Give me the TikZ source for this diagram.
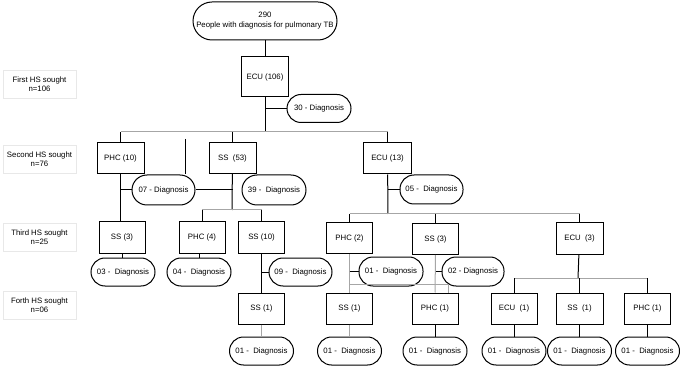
\documentclass[tikz,border=0pt]{standalone}
\usepackage{fontspec}
\setmainfont{Liberation Sans}
\usepackage{tikz}
\usetikzlibrary{positioning}
\tikzset{
  caixa/.style={draw, line width=1pt, fill=white, align=center, minimum width=#1, minimum height=31pt, inner sep=1pt, font=\fontsize{7.8}{9}\selectfont},
  caixa/.default=47pt,
  diag/.style={draw, line width=1pt, fill=white, rounded corners=14pt, align=center, minimum width=#1, minimum height=28pt, inner sep=1pt, font=\fontsize{7.8}{9}\selectfont},
  diag/.default=64pt,
  nivel/.style={draw=gray!18, line width=0.8pt, align=center, minimum width=73pt, minimum height=28pt, inner sep=1pt, font=\fontsize{7.8}{9}\selectfont},
  liga/.style={line width=1pt},
  barra/.style={line width=1pt, draw=gray!70},
}

\begin{document}
\begin{tikzpicture}[x=1pt, y=-1pt, node distance=12pt]
  \useasboundingbox (0,0) rectangle (680,366);

  % niveis
  \node[nivel] (n1) at (39.5,84.5) {First HS sought\\n=106};
  \node[nivel] (n2) at (39.5,159) {Second HS sought\\n=76};
  \node[nivel] (n3) at (39.5,237) {Third HS sought\\n=25};
  \node[nivel] (n4) at (39.5,305.5) {Forth HS sought\\n=06};

  % primeiro
  \node[diag=144pt, minimum height=38pt, rounded corners=19pt, font=\fontsize{7.8}{10}\selectfont] (total) at (265,21) {290\\People with diagnosis for pulmonary TB};
  \node[caixa, minimum height=40pt] (ecu106) at (265,77) {ECU (106)};
  \node[diag] (d30) at (319,108.5) {30 - Diagnosis};

  % segundo
  \node[caixa] (phc10) at (120.5,158) {PHC (10)};
  \node[caixa] (ss53) at (232.5,158) {SS~ (53)};
  \node[caixa=48pt] (ecu13) at (387.5,158.5) {ECU (13)};
  \node[diag=63pt, minimum height=30pt, rounded corners=15pt] (d07) at (163.5,190) {07 - Diagnosis};
  \node[diag, minimum height=30pt, rounded corners=15pt] (d39) at (274,190) {39 -~ Diagnosis};
  \node[diag=63pt, minimum height=29pt] (d05) at (431.5,189.5) {05 -~ Diagnosis};

  % terceiro
  \node[caixa=46pt] (ss3a) at (122,237.5) {SS (3)};
  \node[caixa=46pt] (phc4) at (202,237.5) {PHC (4)};
  \node[caixa=46pt] (ss10) at (261.5,237.5) {SS (10)};
  \node[caixa=46pt] (phc2) at (349.5,238) {PHC (2)};
  \node[caixa=46pt] (ss3b) at (435.5,239) {SS (3)};
  \node[caixa] (ecu3) at (579.5,238.5) {ECU~ (3)};
  \node[diag] (d03) at (123,272) {03 -~ Diagnosis};
  \node[diag] (d04) at (199,272) {04 -~ Diagnosis};
  \node[diag=63pt] (d09) at (300.5,272) {09 -~ Diagnosis};
  \node[diag, minimum height=29pt] (d01a) at (391,271.5) {01 -~ Diagnosis};
  \node[diag=62pt, minimum height=29pt] (d02) at (473,271.5) {02 - Diagnosis};

  % quarto
  \node[caixa=46pt] (ss1a) at (261.5,308.5) {SS (1)};
  \node[caixa=46pt] (ss1b) at (349.5,308.5) {SS (1)};
  \node[caixa=46pt] (phc1b) at (435,308.5) {PHC (1)};
  \node[caixa=46pt] (ecu1) at (514,308.5) {ECU~ (1)};
  \node[caixa] (ss1c) at (579.5,308.5) {SS~ (1)};
  \node[caixa=46pt] (phc1c) at (647.5,308.5) {PHC (1)};
  \node[diag, below=of ss1a] (f1) {01 -~ Diagnosis};
  \node[diag, below=of ss1b] (f2) {01 -~ Diagnosis};
  \node[diag, below=of phc1b] (f3) {01 -~ Diagnosis};
  \node[diag, below=of ecu1] (f4) {01 -~ Diagnosis};
  \node[diag, below=of ss1c] (f5) {01 -~ Diagnosis};
  \node[diag, below=of phc1c] (f6) {01 -~ Diagnosis};

  \coordinate (b1) at (265,132);
  \coordinate (b2) at (232,210);
  \coordinate (b3) at (388,214);
  \coordinate (b4) at (578,278);
  \coordinate (solto) at (185,139);
  \coordinate (desvio) at (448,284);

  % ligacoes
  \draw[liga] (total) -- (ecu106);
  \draw[liga] (ecu106) -- (b1);
  \draw[liga] (ecu106.south |- d30) -- (d30);
  \draw[barra] (phc10 |- b1) -- (ecu13 |- b1);
  \draw[liga] (phc10 |- b1) -- (phc10);
  \draw[liga] (ss53 |- b1) -- (ss53);
  \draw[liga] (ecu13 |- b1) -- (ecu13);
  \draw[liga] (solto) -- (solto |- d07.north);

  \draw[liga] (phc10) -- (phc10 |- ss3a.north);
  \draw[liga] (phc10 |- d07) -- (d07);
  \draw[liga] (d07) -- (ss53 |- d07);
  \draw[liga] (ss53) -- (b2);
  \draw[barra] (phc4 |- b2) -- (ss10 |- b2);
  \draw[liga] (phc4 |- b2) -- (phc4);
  \draw[liga] (ss10 |- b2) -- (ss10);

  \draw[liga] (ecu13) -- (b3);
  \draw[liga] (ecu13 |- d05) -- (d05);
  \draw[barra] (phc2 |- b3) -- (ecu3 |- b3);
  \draw[liga] (phc2 |- b3) -- (phc2);
  \draw[liga] (ss3b |- b3) -- (ss3b);
  \draw[liga] (ecu3 |- b3) -- (ecu3);

  \draw[liga] (ss3a.south) -- (ss3a.south |- d03.north);
  \draw[liga] (phc4.south -| d04) -- (d04);
  \draw[liga] (ss10) -- (ss1a);
  \draw[liga] (ss10 |- d09) -- (d09);
  \draw[barra] (phc2) -- (ss1b);
  \draw[liga] (phc2 |- d01a) -- (d01a);
  \draw[barra] (phc2 |- desvio) -- (desvio) -- (desvio |- phc1b.north);
  \draw[barra] (ss3b) -- (phc1b);
  \draw[liga] (ss3b |- d02) -- (d02);
  \draw[liga] (ecu3) -- (b4);
  \draw[barra] (ecu1 |- b4) -- (phc1c |- b4);
  \draw[liga] (ecu1 |- b4) -- (ecu1);
  \draw[liga] (ss1c |- b4) -- (ss1c);
  \draw[liga] (phc1c |- b4) -- (phc1c);

  \draw[barra] (ss1a) -- (f1);
  \draw[barra] (ss1b) -- (f2);
  \draw[liga] (phc1b) -- (f3);
  \draw[liga] (ecu1) -- (f4);
  \draw[liga] (ss1c) -- (f5);
  \draw[liga] (phc1c) -- (f6);
\end{tikzpicture}
\end{document}
